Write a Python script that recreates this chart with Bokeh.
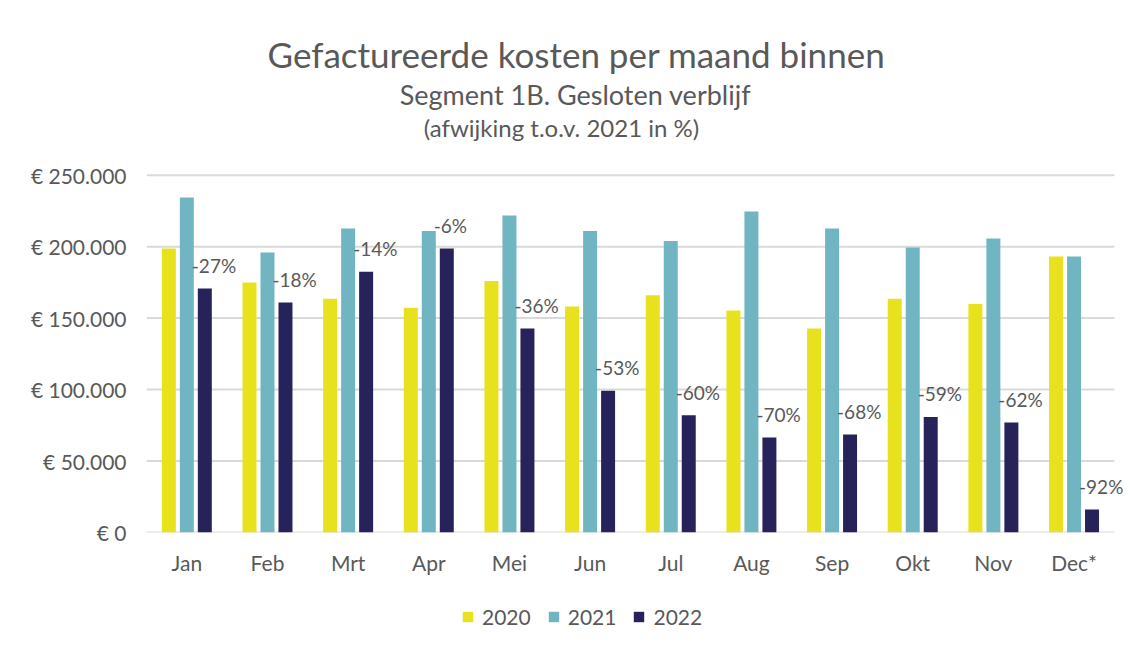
from bokeh.plotting import figure
from bokeh.layouts import column
from bokeh.models import ColumnDataSource, Range1d, FixedTicker, Legend, LegendItem, Label
from bokeh.core.properties import value
from bokeh.embed import file_html
from bokeh.resources import INLINE

months = ["Jan", "Feb", "Mrt", "Apr", "Mei", "Jun", "Jul", "Aug", "Sep", "Okt", "Nov", "Dec*"]
y2020 = [198700, 175000, 163500, 157200, 176000, 158200, 166000, 155400, 142800, 163500, 159800, 193100]
y2021 = [234400, 195900, 212700, 211000, 221800, 211000, 203900, 224600, 212700, 199400, 205700, 193100]
y2022 = [170800, 161000, 182400, 198700, 142800, 99100, 82100, 66500, 68600, 80900, 77000, 16100]
pct_labels = ["-27%", "-18%", "-14%", "-6%", "-36%", "-53%", "-60%", "-70%", "-68%", "-59%", "-62%", "-92%"]
series = ["2020", "2021", "2022"]
colors = ["#E8E11E", "#71B5C3", "#28225A"]
y_ticks = [0, 50000, 100000, 150000, 200000, 250000]
y_tick_labels = ["€ 0", "€ 50.000", "€ 100.000", "€ 150.000", "€ 200.000", "€ 250.000"]
title_text = "Gefactureerde kosten per maand binnen"
subtitle_text = "Segment 1B. Gesloten verblijf"
note_text = "(afwijking t.o.v. 2021 in %)"

FONT = "Lato"
TXT = "#595959"

xpos = [i + 0.5 for i in range(len(months))]
off = 0.223
w = 0.1735
src = ColumnDataSource(dict(x=xpos,
                            x0=[v - off for v in xpos], x2=[v + off for v in xpos],
                            y2020=y2020, y2021=y2021, y2022=y2022, pct=pct_labels))

W = 1130
H = 590
BOTTOM = 58
FRAME_H = H - BOTTOM          # frame runs from the figure top down to the zero line
AXIS_PX = 357.3               # pixels between 0 and 250.000
y_end = y_ticks[-1] * FRAME_H / AXIS_PX

p = figure(x_range=Range1d(0, 12.2), y_range=Range1d(0, y_end),
           width=W, height=H, output_backend="svg", toolbar_location=None,
           min_border_left=146, min_border_right=0, min_border_top=0, min_border_bottom=BOTTOM)
p.outline_line_color = None
p.background_fill_color = "white"
p.border_fill_color = "white"

# gridlines spanning the 12 categories
p.segment(x0=0, x1=len(months), y0=y_ticks, y1=y_ticks, line_color="#D9D9D9", line_width=2)

rs = []
for xc, c, col in zip(["x0", "x", "x2"], ["y2020", "y2021", "y2022"], colors):
    r = p.vbar(x=xc, top=c, width=w, bottom=0, source=src, fill_color=col, line_color=None)
    rs.append(r)

p.text(x="x2", y="y2022", text="pct", source=src,
       x_offset=-13, y_offset=-23, text_align="left", text_baseline="middle",
       text_font=value(FONT), text_font_size="19px", text_color=TXT)

p.xgrid.grid_line_color = None
p.ygrid.grid_line_color = None
p.yaxis.ticker = FixedTicker(ticks=y_ticks)
p.yaxis.major_label_overrides = {t: l for t, l in zip(y_ticks, y_tick_labels)}
p.xaxis.ticker = FixedTicker(ticks=xpos)
p.xaxis.major_label_overrides = {x: m for x, m in zip(xpos, months)}
for ax in (p.xaxis, p.yaxis):
    ax.axis_line_color = None
    ax.major_tick_line_color = None
    ax.minor_tick_line_color = None
    ax.major_tick_out = 0
    ax.major_tick_in = 0
    ax.major_label_text_font = FONT
    ax.major_label_text_font_size = "21px"
    ax.major_label_text_color = TXT
p.yaxis.major_label_standoff = 20
p.xaxis.major_label_standoff = 17

# titles (screen units measured from the frame's bottom-left corner)
for txt, x, y, size in [(title_text, 430, 479, "35px"),
                        (subtitle_text, 429, 438, "27px"),
                        (note_text, 415, 405, "24px")]:
    p.add_layout(Label(x=x, y=y, x_units="screen", y_units="screen", text=txt,
                       text_align="center", text_baseline="alphabetic",
                       text_font=FONT, text_font_size=size, text_color=TXT))

# legend strip
lg = figure(width=W, height=56, x_range=Range1d(0, 1), y_range=Range1d(0, 1),
            x_axis_type=None, y_axis_type=None, output_backend="svg", toolbar_location=None,
            min_border_left=146, min_border_right=0, min_border_top=0, min_border_bottom=0)
lg.outline_line_color = None
lg.xgrid.grid_line_color = None
lg.ygrid.grid_line_color = None
# zero-height proxies that only carry the legend swatch colours
lrs = [lg.vbar(x=[0.5], top=[0], bottom=[0], width=0.01, fill_color=col, line_color=None)
       for col in colors]
legend = Legend(items=[LegendItem(label=s, renderers=[r]) for s, r in zip(series, lrs)],
                orientation="horizontal", location=(315, 17),
                glyph_width=13, glyph_height=13, label_standoff=8, spacing=16,
                padding=0, margin=0, border_line_color=None, background_fill_alpha=0,
                label_text_font=FONT, label_text_font_size="21px", label_text_color=TXT)
lg.add_layout(legend, "center")

layout = column(p, lg, spacing=0)
open("out.html", "w").write(file_html(layout, INLINE))
